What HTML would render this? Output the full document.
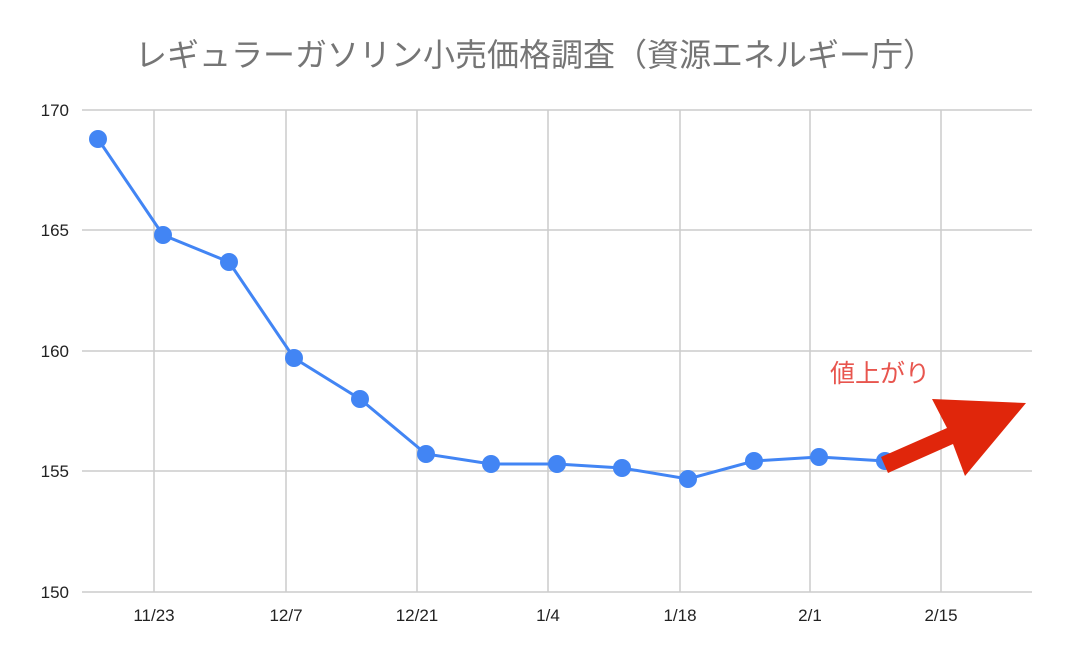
<!DOCTYPE html>
<html><head><meta charset="utf-8"><style>
html,body{margin:0;padding:0;background:#fff;}
svg{display:block;}
text{font-family:"Liberation Sans","Noto Sans CJK JP",sans-serif;}
</style></head><body>
<svg width="1067" height="660" viewBox="0 0 1067 660" xmlns="http://www.w3.org/2000/svg">
<rect width="1067" height="660" fill="#fff"/>
<text x="535" y="66" text-anchor="middle" font-size="32" fill="#757575">レギュラーガソリン小売価格調査（資源エネルギー庁）</text>
<g stroke="#cccccc" stroke-width="1.5">
<line x1="82" y1="110" x2="1032" y2="110"/>
<line x1="82" y1="230" x2="1032" y2="230"/>
<line x1="82" y1="351" x2="1032" y2="351"/>
<line x1="82" y1="471" x2="1032" y2="471"/>
<line x1="82" y1="592" x2="1032" y2="592"/>
<line x1="154" y1="110" x2="154" y2="592"/>
<line x1="286" y1="110" x2="286" y2="592"/>
<line x1="417" y1="110" x2="417" y2="592"/>
<line x1="548" y1="110" x2="548" y2="592"/>
<line x1="680" y1="110" x2="680" y2="592"/>
<line x1="810" y1="110" x2="810" y2="592"/>
<line x1="941" y1="110" x2="941" y2="592"/>
</g>
<g font-size="17" fill="#222" text-anchor="end">
<text x="69" y="116">170</text>
<text x="69" y="236">165</text>
<text x="69" y="357">160</text>
<text x="69" y="477">155</text>
<text x="69" y="598">150</text>
</g>
<g font-size="17" fill="#222" text-anchor="middle">
<text x="154" y="621">11/23</text>
<text x="286" y="621">12/7</text>
<text x="417" y="621">12/21</text>
<text x="548" y="621">1/4</text>
<text x="680" y="621">1/18</text>
<text x="810" y="621">2/1</text>
<text x="941" y="621">2/15</text>
</g>
<polyline fill="none" stroke="#4285f4" stroke-width="3" points="98,139 163,235 229,262 294,358 360,399 426,454 491,464 557,464 622,468 688,479 754,461 819,457 885,461"/>
<g fill="#4285f4">
<circle cx="98" cy="139" r="9"/><circle cx="163" cy="235" r="9"/><circle cx="229" cy="262" r="9"/>
<circle cx="294" cy="358" r="9"/><circle cx="360" cy="399" r="9"/><circle cx="426" cy="454" r="9"/>
<circle cx="491" cy="464" r="9"/><circle cx="557" cy="464" r="9"/><circle cx="622" cy="468" r="9"/>
<circle cx="688" cy="479" r="9"/><circle cx="754" cy="461" r="9"/><circle cx="819" cy="457" r="9"/>
<circle cx="885" cy="461" r="9"/>
</g>
<polygon fill="#e0260b" points="881,457 947,428 932,399 1026,403 965,476 953,444 888,473"/>
<text x="880" y="382" text-anchor="middle" font-size="25" fill="#e8554e">値上がり</text>
</svg>
</body></html>
